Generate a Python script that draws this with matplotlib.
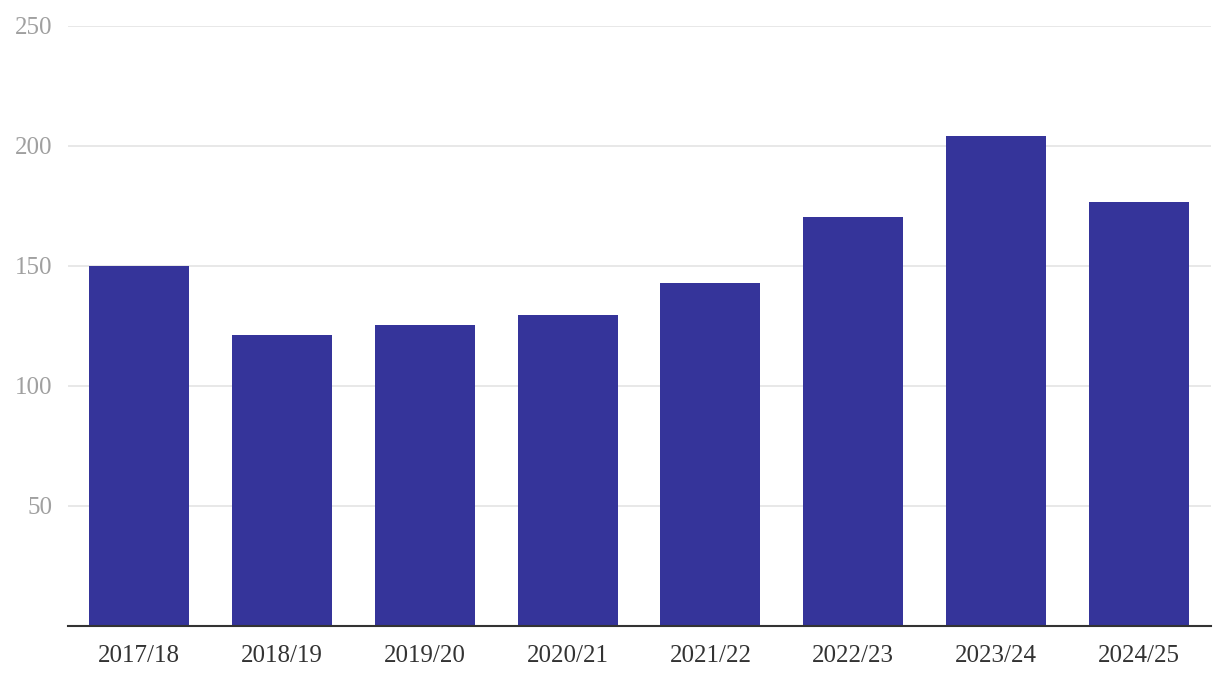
import matplotlib.pyplot as plt

seasons = ["2017/18", "2018/19", "2019/20", "2020/21",
           "2021/22", "2022/23", "2023/24", "2024/25"]
values = [150.0, 121.2, 125.4, 129.6, 142.9, 170.4, 204.2, 176.7]
y_ticks = [50, 100, 150, 200, 250]

plt.rcParams["font.family"] = ["Liberation Serif", "DejaVu Serif"]

fig = plt.figure(figsize=(12.2, 6.84), dpi=100)
ax = fig.add_axes([67.5 / 1220, 58 / 684, 1143 / 1220, 600 / 684])

x = range(len(seasons))
ax.bar(x, values, width=0.7, color="#35349a", zorder=2)

ax.set_xlim(-0.5, len(seasons) - 0.5)
ax.set_ylim(0, 250)
ax.set_xticks(list(x))
ax.set_xticklabels(seasons, fontsize=18, color="#333333")
ax.set_yticks(y_ticks)
ax.set_yticklabels([str(v) for v in y_ticks], fontsize=18, color="#a0a0a0")

ax.grid(axis="y", color="#e6e6e6", linewidth=1.3, zorder=0)
ax.tick_params(axis="both", length=0)
ax.tick_params(axis="x", pad=14)
ax.tick_params(axis="y", pad=11)

for side in ["top", "right", "left"]:
    ax.spines[side].set_visible(False)
ax.spines["bottom"].set_color("#333333")
ax.spines["bottom"].set_linewidth(1.5)
ax.spines["bottom"].set_zorder(3)

fig.savefig("out.png", dpi=100)
